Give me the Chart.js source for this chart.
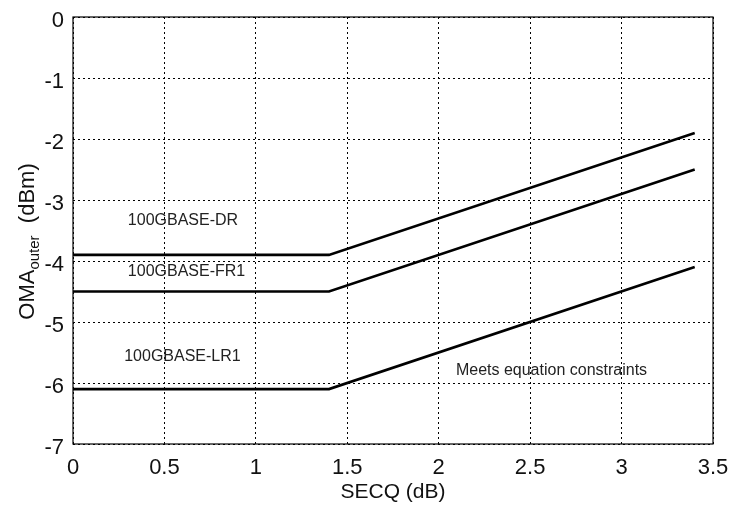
<!DOCTYPE html>
<html>
<head>
<meta charset="utf-8">
<script src="https://cdn.jsdelivr.net/npm/chart.js@4"></script>
<style>
  html, body { margin: 0; padding: 0; background: #fff; }
  #wrap { width: 732px; height: 505px; }
</style>
</head>
<body>
<div id="wrap"><canvas id="chart" width="732" height="505"></canvas></div>
<script>
// SECQ (dB) break points and OMAouter (dBm) limits
const secq = [0, 1.4, 3.4];
const drLimit = [-3.9, -3.9, -1.9];
const fr1Limit = [-4.5, -4.5, -2.5];
const lr1Limit = [-6.1, -6.1, -4.1];

const xTicks = [0, 0.5, 1, 1.5, 2, 2.5, 3, 3.5];
const yTicks = [0, -1, -2, -3, -4, -5, -6, -7];

// text notes placed in data coordinates
const notes = [
  { text: '100GBASE-DR', x: 0.30, y: -3.34 },
  { text: '100GBASE-FR1', x: 0.30, y: -4.18 },
  { text: '100GBASE-LR1', x: 0.28, y: -5.57 },
  { text: 'Meets equation constraints', x: 2.094, y: -5.80 }
];

const FONT = "'Liberation Sans', Arial, sans-serif";

function toPoints(ys) {
  return secq.map((x, i) => ({ x: x, y: ys[i] }));
}

const lineStyle = {
  borderColor: '#000',
  borderWidth: 2.6,
  pointRadius: 0,
  fill: false,
  tension: 0
};

// frame, notes and the y title with its subscript
const decorations = {
  id: 'decorations',
  afterDraw(chart) {
    const ctx = chart.ctx;
    const a = chart.chartArea;
    const xs = chart.scales.x, ys = chart.scales.y;
    ctx.save();
    ctx.strokeStyle = '#000';
    ctx.lineWidth = 1.2;
    ctx.strokeRect(a.left, a.top, a.right - a.left, a.bottom - a.top);

    ctx.fillStyle = '#222';
    ctx.font = '16px ' + FONT;
    ctx.textBaseline = 'middle';
    ctx.textAlign = 'left';
    notes.forEach(n => {
      ctx.fillText(n.text, xs.getPixelForValue(n.x), ys.getPixelForValue(n.y));
    });

    // y axis title: OMA_outer  (dBm)
    ctx.fillStyle = '#111';
    ctx.translate(26, (a.top + a.bottom) / 2 + 11);
    ctx.rotate(-Math.PI / 2);
    const big = '22px ' + FONT, small = '15px ' + FONT;
    ctx.font = big;
    const w1 = ctx.measureText('OMA').width;
    const w3 = ctx.measureText('  (dBm)').width;
    ctx.font = small;
    const w2 = ctx.measureText('outer').width;
    let x0 = -(w1 + w2 + w3) / 2;
    ctx.textBaseline = 'alphabetic';
    ctx.font = big;
    ctx.fillText('OMA', x0, 8);
    ctx.font = small;
    ctx.fillText('outer', x0 + w1, 13);
    ctx.font = big;
    ctx.fillText('  (dBm)', x0 + w1 + w2, 8);
    ctx.restore();
  }
};

new Chart(document.getElementById('chart'), {
  type: 'line',
  data: {
    datasets: [
      Object.assign({ label: '100GBASE-DR', data: toPoints(drLimit) }, lineStyle),
      Object.assign({ label: '100GBASE-FR1', data: toPoints(fr1Limit) }, lineStyle),
      Object.assign({ label: '100GBASE-LR1', data: toPoints(lr1Limit) }, lineStyle)
    ]
  },
  options: {
    responsive: false,
    animation: false,
    layout: { padding: { left: 0, right: 19, top: 17, bottom: 0 } },
    plugins: {
      legend: { display: false },
      tooltip: { enabled: false }
    },
    scales: {
      x: {
        type: 'linear',
        min: 0,
        max: 3.5,
        afterBuildTicks: s => { s.ticks = xTicks.map(v => ({ value: v })); },
        afterFit: s => {
          s.height = 61;
          s.paddingLeft = 0;
          s.paddingRight = 0;
        },
        grid: {
          color: '#000',
          lineWidth: 1,
          drawTicks: false
        },
        border: { display: false, dash: [2, 3] },
        ticks: {
          color: '#111',
          padding: 11,
          maxRotation: 0,
          callback: v => String(v),
          font: { family: FONT, size: 22 }
        },
        title: {
          display: true,
          text: 'SECQ (dB)',
          color: '#111',
          padding: { top: 0, bottom: 0 },
          font: { family: FONT, size: 21 }
        }
      },
      y: {
        type: 'linear',
        min: -7,
        max: 0,
        afterBuildTicks: s => { s.ticks = yTicks.map(v => ({ value: v })); },
        afterFit: s => {
          s.width = 73;
          s.paddingTop = 0;
          s.paddingBottom = 0;
        },
        grid: {
          color: '#000',
          lineWidth: 1,
          drawTicks: false
        },
        border: { display: false, dash: [2, 3] },
        ticks: {
          color: '#111',
          padding: 9,
          labelOffset: 4,
          callback: v => String(v),
          font: { family: FONT, size: 22 }
        }
      }
    }
  },
  plugins: [decorations]
});
</script>
</body>
</html>
